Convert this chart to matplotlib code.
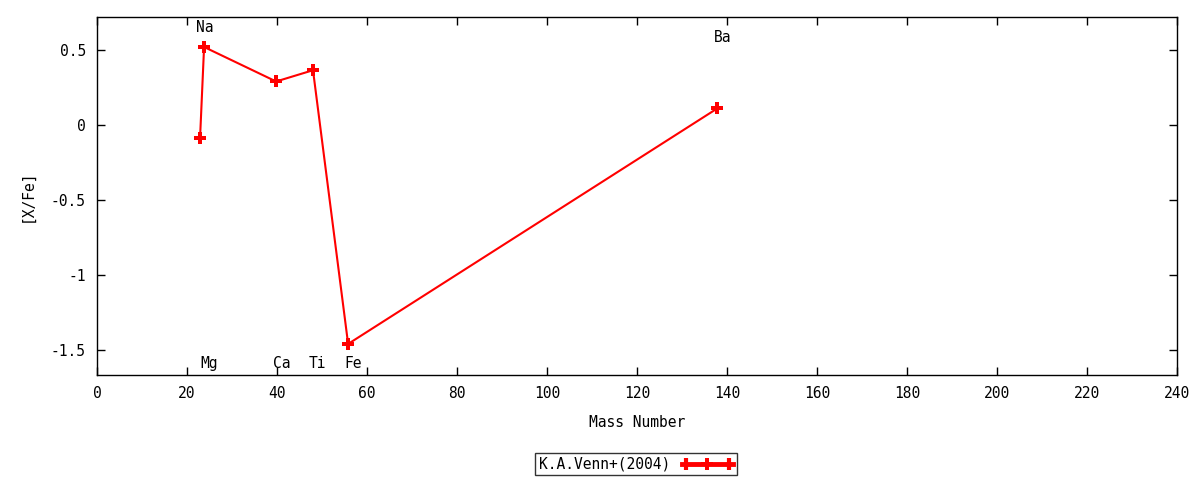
import matplotlib
matplotlib.use("Agg")
import matplotlib.pyplot as plt
from matplotlib.lines import Line2D
from matplotlib.legend_handler import HandlerLine2D, HandlerTuple

elements = ["Na", "Mg", "Ca", "Ti", "Fe", "Ba"]
mass_number = [22.9, 23.8, 39.8, 48.0, 55.8, 137.8]
x_fe = [-0.09, 0.52, 0.29, 0.365, -1.46, 0.11]
label_x = [24.0, 25.0, 41.0, 49.0, 57.0, 139.0]
label_y = [0.65, -1.59, -1.59, -1.59, -1.59, 0.58]
series_name = "K.A.Venn+(2004)"
xticks = list(range(0, 241, 20))
yticks = [-1.5, -1, -0.5, 0, 0.5]
ytick_labels = ["-1.5", "-1", "-0.5", "0", "0.5"]

plt.rcParams['font.family'] = ['DejaVu Sans Mono']
plt.rcParams['font.size'] = 10.5

fig = plt.figure(figsize=(12, 4.8), dpi=100)
ax = fig.add_axes([0.0808, 0.2188, 0.9002, 0.7458])

ax.plot(mass_number, x_fe, color="#ff0000", lw=1.5, marker="P",
        markersize=8, markeredgewidth=0)

for name, lx, ly in zip(elements, label_x, label_y):
    ax.text(lx, ly, name, ha="center", va="center", color="black")

ax.set_xlim(0, 240)
ax.set_ylim(-1.667, 0.72)
ax.set_xticks(xticks)
ax.set_yticks(yticks)
ax.set_yticklabels(ytick_labels)
ax.tick_params(direction="in", top=True, right=True, length=6, width=1, pad=8)
for s in ax.spines.values():
    s.set_linewidth(1)
ax.set_xlabel("Mass Number", labelpad=10)
ax.set_ylabel("[X/Fe]", labelpad=12)

main_h = Line2D([], [], color="#ff0000", lw=3.5, marker="P", markersize=8,
                markeredgewidth=0)
cap_h = Line2D([], [], color="#ff0000", lw=0, marker="|", markersize=8,
               markeredgewidth=3)
leg = fig.legend([(main_h, cap_h)], [series_name], loc="center",
                 bbox_to_anchor=(0.53, 0.033), frameon=True,
                 fancybox=False, edgecolor="black", markerfirst=False,
                 handlelength=3.5, borderpad=0.25, handletextpad=0.8,
                 borderaxespad=0,
                 handler_map={tuple: HandlerTuple(ndivide=1, pad=0),
                              main_h: HandlerLine2D(numpoints=1),
                              cap_h: HandlerLine2D(numpoints=2)})
leg.get_frame().set_linewidth(1)

fig.savefig("out.png", dpi=100)
